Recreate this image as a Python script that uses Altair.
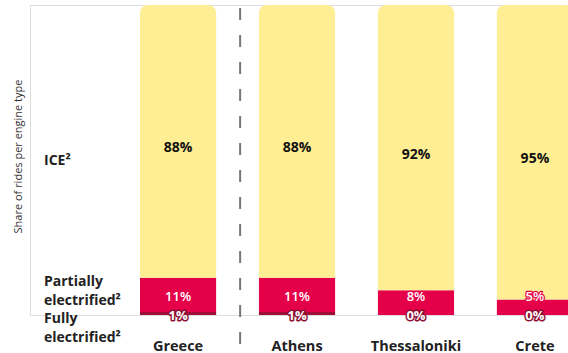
import altair as alt
import pandas as pd

regions = ["Greece", "Athens", "Thessaloniki", "Crete"]
ice = [88, 88, 92, 95]
partial = [11, 11, 8, 5]
fully = [1, 1, 0, 0]

segments = ["Fully electrified", "Partially electrified", "ICE"]
seg_colors = ["#9E0F38", "#E5004A", "#FFEE94"]

side_labels = ["ICE²", "Partially\nelectrified²", "Fully\nelectrified²"]
side_label_pos = [52, 12.8, 1.0]

rows = []
for r, i, p, f in zip(regions, ice, partial, fully):
    start = 0
    for seg, v in zip(segments, [f, p, i]):
        rows.append({"region": r, "seg": seg, "value": v,
                     "start": start, "end": start + v,
                     "mid": start + v / 2, "label": f"{v}%"})
        start += v
df = pd.DataFrame(rows)
# partial-share labels sit on one common line just above the fully-electrified labels
df["pmid"] = df["mid"].clip(lower=5.8, upper=5.8)

side_df = pd.DataFrame({"text": side_labels, "pos": side_label_pos})
sep_df = pd.DataFrame({"region": ["Greece"], "top": [99], "bottom": [-10]})

FONT = "Open Sans"
FS = 14
xscale = alt.Scale(domain=regions, range=[110, 543], paddingInner=0.36, paddingOuter=0)
yscale = alt.Scale(domain=[0, 100], nice=False, zero=True)

xaxis = alt.Axis(title=None, labelFont=FONT, labelFontSize=14.5, labelFontWeight="bold",
                 labelColor="#222222", labelPadding=24, ticks=False, domain=False,
                 grid=False, labelAngle=0)
yaxis = alt.Axis(title="Share of rides per engine type", titleFont=FONT, titleFontSize=11,
                 titleFontWeight="normal", titleColor="#333333", titlePadding=7,
                 titleY=151, labels=False, ticks=False, domain=False, grid=False)

color = alt.Color("seg:N", scale=alt.Scale(domain=segments, range=seg_colors), legend=None)

base = alt.Chart(df)

bars_low = base.transform_filter(alt.datum.seg != "ICE").mark_bar(clip=True).encode(
    x=alt.X("region:N", sort=regions, scale=xscale, axis=xaxis),
    y=alt.Y("start:Q", scale=yscale, axis=yaxis),
    y2="end:Q",
    color=color,
)
bars_ice = base.transform_filter(alt.datum.seg == "ICE").mark_bar(
    clip=True, cornerRadiusTopLeft=8, cornerRadiusTopRight=8).encode(
    x=alt.X("region:N", sort=regions),
    y="start:Q",
    y2="end:Q",
    color=color,
)

ice_text = base.transform_filter(alt.datum.seg == "ICE").mark_text(
    font=FONT, fontSize=FS, fontWeight="bold", color="#111111", dy=7).encode(
    x=alt.X("region:N", sort=regions), y="mid:Q", text="label:N")

part_base = base.transform_filter(alt.datum.seg == "Partially electrified")
part_halo = part_base.mark_text(
    font=FONT, fontSize=13, fontWeight=600, fill="#E5004A", stroke="#E5004A",
    strokeWidth=2.5, strokeJoin="round").encode(
    x=alt.X("region:N", sort=regions), y="pmid:Q", text="label:N")
part_text = part_base.mark_text(
    font=FONT, fontSize=13, fontWeight=600, color="white").encode(
    x=alt.X("region:N", sort=regions), y="pmid:Q", text="label:N")

full_base = base.transform_filter(alt.datum.seg == "Fully electrified")
full_halo = full_base.mark_text(
    font=FONT, fontSize=13, fontWeight="bold", fill="#8C0F33", stroke="#8C0F33",
    strokeWidth=3, strokeJoin="round", dy=0.5).encode(
    x=alt.X("region:N", sort=regions), y="start:Q", text="label:N")
full_text = full_base.mark_text(
    font=FONT, fontSize=13, fontWeight="bold", fill="white", dy=0.5).encode(
    x=alt.X("region:N", sort=regions), y="start:Q", text="label:N")

side_text = alt.Chart(side_df).mark_text(
    font=FONT, fontSize=FS, fontWeight="bold", color="#222222", align="left",
    baseline="top", lineBreak="\n", lineHeight=19).encode(
    x=alt.value(14), y=alt.Y("pos:Q"), text="text:N")

sep = alt.Chart(sep_df).mark_rule(color="#777777", strokeWidth=2, strokeDash=[12, 15],
                                  xOffset=24).encode(
    x=alt.X("region:N", sort=regions, bandPosition=1),
    y="top:Q", y2="bottom:Q")

chart = alt.layer(bars_low, bars_ice, sep, ice_text, part_halo, part_text, full_halo,
                  full_text, side_text).properties(
    width=538, height=310,
    autosize=alt.AutoSizeParams(type="none"),
    padding={"left": 30, "top": 5, "right": 0, "bottom": 38},
).configure_view(stroke=None).configure(background="white")

chart.save("out.html", embed_options={"renderer": "svg", "actions": False})
